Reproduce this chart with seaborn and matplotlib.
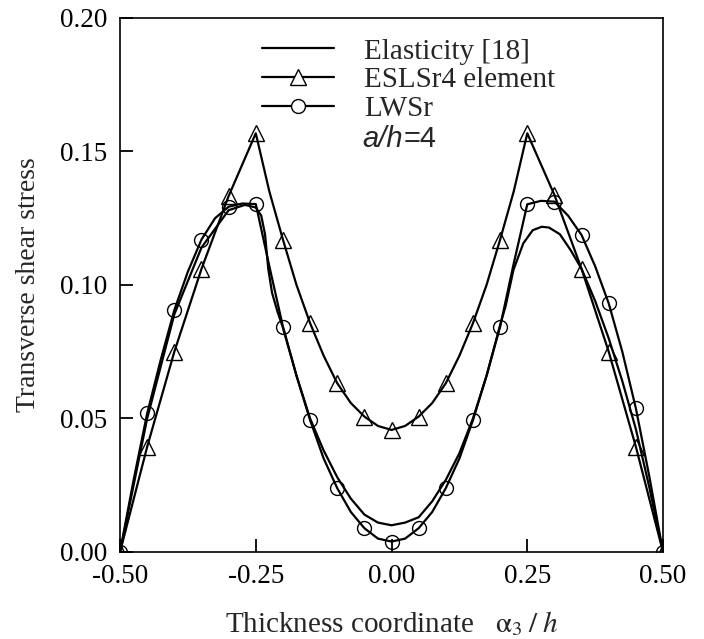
import numpy as np
import pandas as pd
import matplotlib
matplotlib.use("Agg")
import matplotlib.pyplot as plt
import seaborn as sns
from matplotlib.lines import Line2D

# Elasticity [18] - smooth reference solution
elast_x = [-0.50, -0.45, -0.40, -0.35, -0.30, -0.27, -0.25, -0.24, -0.233, -0.227, -0.22, -0.21,
           -0.20, -0.175, -0.15, -0.125, -0.10, -0.075, -0.05, -0.025, 0.00, 0.025, 0.05, 0.075,
           0.10, 0.125, 0.15, 0.175, 0.20, 0.21, 0.2245, 0.2427, 0.26, 0.2766, 0.29, 0.31, 0.33,
           0.35, 0.375, 0.40, 0.425, 0.45, 0.475, 0.50]
elast_y = [0.000, 0.050, 0.089, 0.114, 0.128, 0.130, 0.129, 0.126, 0.119, 0.106, 0.097, 0.090,
           0.084, 0.066, 0.050, 0.038, 0.028, 0.020, 0.014, 0.011, 0.010, 0.011, 0.013, 0.019,
           0.027, 0.037, 0.050, 0.066, 0.085, 0.092, 0.1056, 0.1156, 0.1205, 0.1218, 0.1215, 0.119, 0.113,
           0.106, 0.094, 0.080, 0.064, 0.046, 0.024, 0.000]

# ESLSr4 element (triangles at every 0.05, line through them)
esl_x = [-0.50, -0.45, -0.40, -0.35, -0.30, -0.25, -0.20, -0.15, -0.10, -0.05, 0.00,
         0.05, 0.10, 0.15, 0.20, 0.25, 0.30, 0.35, 0.40, 0.45, 0.50]
esl_y = [0.000, 0.0394, 0.0750, 0.1060, 0.1333, 0.1568, 0.1170, 0.0857, 0.0632, 0.0507, 0.0457,
         0.0507, 0.0632, 0.0857, 0.1170, 0.1568, 0.1337, 0.1060, 0.0750, 0.0394, 0.000]
esl_line_x = [-0.50, -0.45, -0.40, -0.35, -0.30, -0.25, -0.225, -0.20, -0.175, -0.15, -0.125,
              -0.10, -0.075, -0.05, -0.025, 0.00, 0.025, 0.05, 0.075, 0.10, 0.125, 0.15, 0.175,
              0.20, 0.225, 0.25, 0.30, 0.35, 0.40, 0.45, 0.50]
esl_line_y = [0.000, 0.0394, 0.0750, 0.1060, 0.1333, 0.1568, 0.1350, 0.1170, 0.1000, 0.0857, 0.0735,
              0.0632, 0.0558, 0.0507, 0.0472, 0.0457, 0.0472, 0.0507, 0.0558, 0.0632, 0.0735, 0.0857, 0.1000,
              0.1170, 0.1350, 0.1568, 0.1337, 0.1060, 0.0750, 0.0394, 0.000]

# LWSr (circles at every 0.05, line through the curve)
lws_x = [-0.50, -0.45, -0.40, -0.35, -0.30, -0.25, -0.20, -0.15, -0.10, -0.05, 0.00,
         0.05, 0.10, 0.15, 0.20, 0.25, 0.30, 0.35, 0.40, 0.45, 0.50]
lws_y = [0.000, 0.0519, 0.0906, 0.1170, 0.1293, 0.1303, 0.0844, 0.0494, 0.0239, 0.0089, 0.0039,
         0.0089, 0.0239, 0.0494, 0.0844, 0.1302, 0.1312, 0.1187, 0.0931, 0.0538, 0.000]
lws_line_x = [-0.50, -0.475, -0.45, -0.425, -0.40, -0.375, -0.35, -0.325, -0.30, -0.275, -0.25,
              -0.225, -0.20, -0.175, -0.15, -0.125, -0.10, -0.075, -0.05, -0.025, 0.00, 0.025,
              0.05, 0.075, 0.10, 0.125, 0.15, 0.175, 0.20, 0.225, 0.25, 0.275, 0.30, 0.325,
              0.35, 0.375, 0.40, 0.425, 0.45, 0.475, 0.50]
lws_line_y = [0.000, 0.027, 0.0519, 0.072, 0.0906, 0.105, 0.1170, 0.125, 0.1293, 0.1305, 0.1303,
              0.107, 0.0844, 0.066, 0.0494, 0.035, 0.0239, 0.015, 0.0089, 0.005, 0.0039, 0.005,
              0.0089, 0.015, 0.0239, 0.035, 0.0494, 0.066, 0.0844, 0.108, 0.1302, 0.1315, 0.1312, 0.126,
              0.1187, 0.107, 0.0931, 0.075, 0.0538, 0.028, 0.000]

x_ticks = [-0.50, -0.25, 0.00, 0.25, 0.50]
y_ticks = [0.00, 0.05, 0.10, 0.15, 0.20]

sns.set_style("ticks")
plt.rcParams["font.family"] = ["Liberation Serif", "DejaVu Serif"]
plt.rcParams["mathtext.fontset"] = "stix"

fig = plt.figure(figsize=(7.04, 6.39), dpi=100)
ax = fig.add_axes([0.1705, 0.1362, 0.7713, 0.8357])

lw = 1.6
mk = dict(markerfacecolor="none", markeredgecolor="black", markeredgewidth=1.0)
sns.lineplot(x=elast_x, y=elast_y, color="black", lw=lw, sort=False, estimator=None, ax=ax)
sns.lineplot(x=esl_line_x, y=esl_line_y, color="black", lw=lw, sort=False, estimator=None, ax=ax)
sns.lineplot(x=esl_x, y=esl_y, color="black", lw=0, sort=False, estimator=None, ax=ax,
             marker="^", markersize=11, **mk)
sns.lineplot(x=lws_line_x, y=lws_line_y, color="black", lw=lw, sort=False, estimator=None, ax=ax)
sns.lineplot(x=lws_x, y=lws_y, color="black", lw=0, sort=False, estimator=None, ax=ax,
             marker="o", markersize=10, **mk)

ax.set_xlim(-0.5, 0.5)
ax.set_ylim(0, 0.2)
ax.set_xticks(x_ticks)
ax.set_yticks(y_ticks)
ax.set_xticklabels([f"{v:.2f}" for v in x_ticks])
ax.set_yticklabels([f"{v:.2f}" for v in y_ticks])
ax.tick_params(direction="in", length=9.5, width=1.3, labelsize=19.5, pad=9, colors="black")
for s in ax.spines.values():
    s.set_visible(True)
    s.set_linewidth(1.2)
    s.set_color("black")

ax.set_xlabel(r"Thickness coordinate   $\mathrm{\alpha}_3\;/\;h$", fontsize=21, labelpad=14)
ax.set_ylabel("Transverse shear stress", fontsize=20, labelpad=14)

handles = [
    Line2D([], [], color="black", lw=lw),
    Line2D([], [], color="black", lw=lw, marker="^", markersize=11,
           markerfacecolor="white", markeredgecolor="black", markeredgewidth=1.0),
    Line2D([], [], color="black", lw=lw, marker="o", markersize=10,
           markerfacecolor="white", markeredgecolor="black", markeredgewidth=1.0),
]
labels = ["Elasticity [18]", "ESLSr4 element", "LWSr"]
ax.legend(handles, labels, loc="upper left", bbox_to_anchor=(0.262, 0.962), frameon=False,
          fontsize=21, handlelength=2.45, handletextpad=1.05, labelspacing=0.08,
          borderpad=0, borderaxespad=0)

t = ax.text(0.447, 0.774, "a/h", transform=ax.transAxes, fontsize=21,
            family="Liberation Sans", style="italic", va="center", ha="left")
ax.annotate("=4", xy=(1, 0), xycoords=t, va="bottom", ha="left", fontsize=21,
            family="Liberation Sans")

fig.savefig("out.png", dpi=100)
